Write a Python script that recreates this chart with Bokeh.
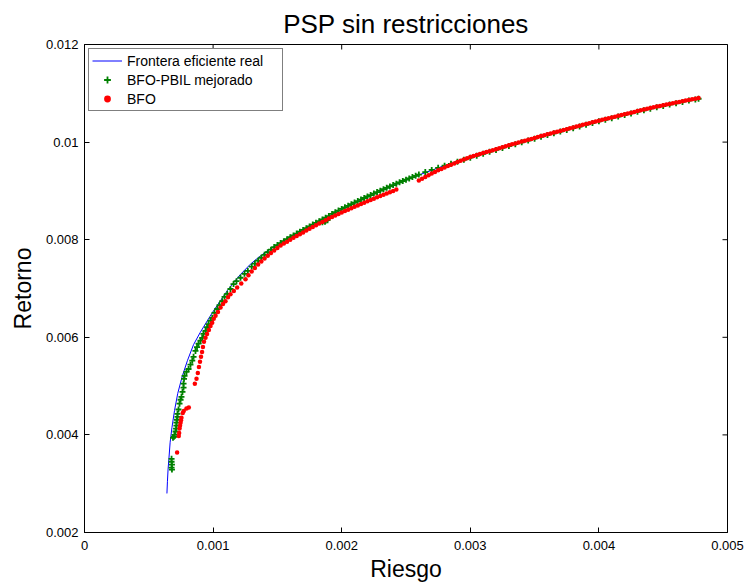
import math
from bokeh.plotting import figure
from bokeh.models import Range1d, FixedTicker, Legend, LegendItem
from bokeh.embed import file_html
from bokeh.resources import INLINE

title_text = "PSP sin restricciones"
x_label = "Riesgo"
y_label = "Retorno"
series_names = ["Frontera eficiente real", "BFO-PBIL mejorado", "BFO"]

x_ticks = [0.0, 0.001, 0.002, 0.003, 0.004, 0.005]
x_tick_labels = ["0", "0.001", "0.002", "0.003", "0.004", "0.005"]
y_ticks = [0.002, 0.004, 0.006, 0.008, 0.010, 0.012]
y_tick_labels = ["0.002", "0.004", "0.006", "0.008", "0.01", "0.012"]

# Frontera eficiente real (blue line)
frontier_risk = [0.000641, 0.000645, 0.000650, 0.000656, 0.000666, 0.000680, 0.000700, 0.000725, 0.000760, 0.000800,
                 0.000848, 0.000900, 0.000960, 0.001005, 0.001060, 0.001112, 0.001150, 0.001210, 0.001291, 0.001350,
                 0.001400, 0.001500, 0.001600, 0.001800, 0.002000, 0.002200, 0.002400, 0.002600, 0.002800, 0.003000,
                 0.003200, 0.003400, 0.003600, 0.003800, 0.004000, 0.004200, 0.004400, 0.004600, 0.004782]
frontier_return = [0.00280, 0.00305, 0.00330, 0.00350, 0.00385, 0.00415, 0.00450, 0.00485, 0.00520, 0.00552,
                   0.00585, 0.00610, 0.00636, 0.00655, 0.00676, 0.00696, 0.00709, 0.00728, 0.00750, 0.00763,
                   0.00773, 0.00790, 0.00806, 0.008345, 0.00862, 0.008875, 0.00911, 0.009325, 0.00952, 0.009695,
                   0.009855, 0.01001, 0.01016, 0.01030, 0.01044, 0.01057, 0.01070, 0.01081, 0.010905]

# BFO-PBIL mejorado (green +)
pbil_risk = [0.000677, 0.000677, 0.000680, 0.000677, 0.000680, 0.000688, 0.000696, 0.000700, 0.000708, 0.000712,
             0.000715, 0.000715, 0.000719, 0.000723, 0.000723, 0.000731, 0.000739, 0.000747, 0.000754, 0.000762,
             0.000770, 0.000770, 0.000774, 0.000778, 0.000793, 0.000809, 0.000824, 0.000838, 0.000848, 0.000863,
             0.000875, 0.000887, 0.000902, 0.000915, 0.000925, 0.000941, 0.000953, 0.000964, 0.000980, 0.000993,
             0.001011, 0.001032, 0.001050, 0.001071, 0.001089, 0.001110, 0.001135, 0.001159, 0.001182, 0.001213,
             0.001244, 0.001270,
             0.0013, 0.001325, 0.00135, 0.001375, 0.0014, 0.001425, 0.00145, 0.001475, 0.0015, 0.001525,
             0.00155, 0.001575, 0.0016, 0.001625, 0.00165, 0.001675, 0.0017, 0.001725, 0.00175, 0.001775,
             0.0018, 0.001825, 0.00185, 0.001875, 0.0019, 0.001925, 0.00195, 0.001975, 0.002, 0.002025,
             0.00205, 0.002075, 0.0021, 0.002125, 0.00215, 0.002175, 0.0022, 0.002225, 0.00225, 0.002275,
             0.0023, 0.002325, 0.00235, 0.002375, 0.0024, 0.002425, 0.00245, 0.002475, 0.0025, 0.002525,
             0.00255, 0.002575, 0.0026,
             0.00185, 0.00187, 0.001875, 0.00189,
             0.00265, 0.0027, 0.00275, 0.0028, 0.00285, 0.0029, 0.00295, 0.003, 0.00305, 0.0031,
             0.00315, 0.0032, 0.00325, 0.0033, 0.00335, 0.0034, 0.00345, 0.0035, 0.00355, 0.0036,
             0.00365, 0.0037, 0.00375, 0.0038, 0.00385, 0.0039, 0.00395, 0.004, 0.00405, 0.0041,
             0.00415, 0.0042, 0.00425, 0.0043, 0.00435, 0.0044, 0.00445, 0.0045, 0.00455, 0.0046,
             0.00465, 0.0047, 0.00475, 0.004775]
pbil_return = [0.00351, 0.00345, 0.00339, 0.00333, 0.00329, 0.00394, 0.00396, 0.00400, 0.00407, 0.00413,
               0.00419, 0.00425, 0.00431, 0.00437, 0.00443, 0.00452, 0.00464, 0.00472, 0.00478, 0.00488,
               0.00497, 0.00505, 0.00515, 0.00521, 0.00529, 0.00535, 0.00544, 0.00552, 0.00560, 0.00572,
               0.00580, 0.00587, 0.00593, 0.00599, 0.00607, 0.00613, 0.00621, 0.00627, 0.00634, 0.00640,
               0.00650, 0.00658, 0.00666, 0.00674, 0.00683, 0.00689, 0.00699, 0.00709, 0.00715, 0.00722,
               0.00730, 0.00736,
               0.00745, 0.00751, 0.00757, 0.00763, 0.00769, 0.007743, 0.007795, 0.007848, 0.00789, 0.00793,
               0.00797, 0.00801, 0.00805, 0.008088, 0.008125, 0.008163, 0.0082, 0.008236, 0.008273, 0.008309,
               0.008345, 0.00838, 0.008415, 0.00845, 0.008485, 0.008529, 0.008563, 0.008596, 0.00863, 0.008663,
               0.008695, 0.008728, 0.00876, 0.008791, 0.008823, 0.008854, 0.008885, 0.008915, 0.008945, 0.008975,
               0.009005, 0.009034, 0.009063, 0.009091, 0.00912, 0.009148, 0.009175, 0.009203, 0.00923, 0.009256,
               0.009283, 0.009309, 0.009335,
               0.00836, 0.00837, 0.00839, 0.0084,
               0.009385, 0.00943, 0.009473, 0.009515, 0.009555, 0.009595, 0.009638, 0.00968, 0.00972, 0.00976,
               0.0098, 0.00984, 0.00988, 0.00992, 0.009958, 0.009995, 0.010033, 0.01007, 0.010108, 0.010145,
               0.01018, 0.010215, 0.01025, 0.010285, 0.01032, 0.010355, 0.01039, 0.010425, 0.010458, 0.01049,
               0.010523, 0.010555, 0.010588, 0.01062, 0.010653, 0.010685, 0.010713, 0.01074, 0.010768, 0.010795,
               0.010823, 0.01085, 0.010875, 0.010888]

# BFO (red dots)
bfo_risk = [0.000720,
            0.000733, 0.000736, 0.000739, 0.000743, 0.000747, 0.000750, 0.000754, 0.000764, 0.000772, 0.000793,
            0.000811,
            0.000858, 0.000871, 0.000881, 0.000890, 0.000898, 0.000906, 0.000914, 0.000921, 0.000929, 0.000941,
            0.000953, 0.000967, 0.000980, 0.000993, 0.001005, 0.001019, 0.001038, 0.001058, 0.001077, 0.001096,
            0.001116, 0.001135, 0.001161, 0.001187, 0.001219, 0.001252,
            0.001275, 0.0013, 0.001325, 0.00135, 0.001375, 0.0014, 0.001425, 0.00145, 0.001475, 0.0015,
            0.001525, 0.00155, 0.001575, 0.0016, 0.001625, 0.00165, 0.001675, 0.0017, 0.001725, 0.00175,
            0.001775, 0.0018, 0.001825, 0.00185, 0.001875, 0.0019, 0.001925, 0.00195, 0.001975, 0.002,
            0.002025, 0.00205, 0.002075, 0.0021, 0.002125, 0.00215, 0.002175, 0.0022, 0.002225, 0.00225,
            0.002275, 0.0023, 0.002325, 0.00235, 0.002375, 0.0024, 0.002425,
            0.0026, 0.002625, 0.00265, 0.002675, 0.0027, 0.002725, 0.00275, 0.002775, 0.0028, 0.002825,
            0.00285, 0.002875, 0.0029, 0.002925, 0.00295, 0.002975, 0.003, 0.003025, 0.00305, 0.003075,
            0.0031, 0.003125, 0.00315, 0.003175, 0.0032, 0.003225, 0.00325, 0.003275, 0.0033, 0.003325,
            0.00335, 0.003375, 0.0034, 0.003425, 0.00345, 0.003475, 0.0035, 0.003525, 0.00355, 0.003575,
            0.0036, 0.003625, 0.00365, 0.003675, 0.0037, 0.003725, 0.00375, 0.003775, 0.0038, 0.003825,
            0.00385, 0.003875, 0.0039, 0.003925, 0.00395, 0.003975, 0.004, 0.004025, 0.00405, 0.004075,
            0.0041, 0.004125, 0.00415, 0.004175, 0.0042, 0.004225, 0.00425, 0.004275, 0.0043, 0.004325,
            0.00435, 0.004375, 0.0044, 0.004425, 0.00445, 0.004475, 0.0045, 0.004525, 0.00455, 0.004575,
            0.0046, 0.004625, 0.00465, 0.004675, 0.0047, 0.004725, 0.00475, 0.004775]
bfo_return = [0.00364,
              0.00398, 0.00404, 0.00413, 0.00419, 0.00425, 0.00430, 0.00435, 0.00445, 0.00449, 0.00454,
              0.00456,
              0.00505, 0.00515, 0.00527, 0.00539, 0.00550, 0.00560, 0.00570, 0.00580, 0.00591, 0.00599,
              0.00607, 0.00615, 0.00623, 0.00630, 0.00638, 0.00644, 0.00652, 0.00661, 0.00668, 0.00674,
              0.00682, 0.00688, 0.00695, 0.00702, 0.00710, 0.00719,
              0.00727, 0.00735, 0.00742, 0.00749, 0.007555, 0.007615, 0.00767, 0.007725, 0.007778, 0.00783,
              0.00788, 0.00792, 0.00796, 0.008, 0.008038, 0.008075, 0.008113, 0.00815, 0.008186, 0.008223,
              0.008259, 0.008295, 0.00833, 0.008365, 0.0084, 0.008435, 0.008464, 0.008495, 0.008525, 0.008556,
              0.008586, 0.008615, 0.008645, 0.008674, 0.008702, 0.008731, 0.008759, 0.008787, 0.008814, 0.008841,
              0.008868, 0.008895, 0.008921, 0.008947, 0.008973, 0.009, 0.009028,
              0.009215, 0.00925, 0.009285, 0.00932, 0.009355, 0.009389, 0.009423, 0.009451, 0.00948, 0.009508,
              0.009535, 0.009563, 0.00959, 0.009616, 0.009643, 0.009669, 0.009695, 0.009715, 0.009735, 0.009755,
              0.009775, 0.009795, 0.009815, 0.009835, 0.009855, 0.009875, 0.009895, 0.009915, 0.009935, 0.009954,
              0.009973, 0.009991, 0.01001, 0.010029, 0.010048, 0.010066, 0.010085, 0.010104, 0.010123, 0.010141,
              0.01016, 0.010178, 0.010195, 0.010213, 0.01023, 0.010248, 0.010265, 0.010283, 0.0103, 0.010318,
              0.010335, 0.010353, 0.01037, 0.010388, 0.010405, 0.010423, 0.01044, 0.010456, 0.010473, 0.010489,
              0.010505, 0.010521, 0.010538, 0.010554, 0.01057, 0.010586, 0.010603, 0.010619, 0.010635, 0.010651,
              0.010668, 0.010684, 0.0107, 0.010714, 0.010728, 0.010741, 0.010755, 0.010769, 0.010783, 0.010796,
              0.01081, 0.010824, 0.010838, 0.010851, 0.010865, 0.010877, 0.01089, 0.010902]

FONT = "Liberation Sans"

x_min, x_max = x_ticks[0], x_ticks[-1]
y_min, y_max = y_ticks[0], y_ticks[-1]

p = figure(width=745, height=586, output_backend="svg", toolbar_location=None,
           x_range=Range1d(x_min, x_max), y_range=Range1d(y_min, y_max),
           min_border_left=84, min_border_right=18, min_border_top=43, min_border_bottom=54)
p.background_fill_color = "white"
p.border_fill_color = "white"
p.outline_line_color = "black"
p.outline_line_width = 1
p.grid.visible = False

p.title.text = title_text
p.title.align = "center"
p.title.text_font = FONT
p.title.text_font_size = "26px"
p.title.text_font_style = "normal"
p.title.text_color = "black"
p.title.standoff = 12

def style_axis(ax, ticks, labels, label_standoff, axis_label_standoff):
    ax.ticker = FixedTicker(ticks=ticks)
    ax.major_label_overrides = {t: l for t, l in zip(ticks, labels)}
    ax.major_tick_in = 5
    ax.major_tick_out = 0
    ax.minor_tick_line_color = None
    ax.axis_line_color = "black"
    ax.major_tick_line_color = "black"
    ax.major_label_text_font = FONT
    ax.major_label_text_color = "black"
    ax.major_label_text_font_size = "13px"
    ax.major_label_standoff = label_standoff
    ax.axis_label_text_font = FONT
    ax.axis_label_text_font_style = "normal"
    ax.axis_label_text_color = "black"
    ax.axis_label_text_font_size = "23px"
    ax.axis_label_standoff = axis_label_standoff

style_axis(p.xaxis[0], x_ticks, x_tick_labels, 8, 3)
style_axis(p.yaxis[0], y_ticks, y_tick_labels, 6, 7)
p.xaxis[0].axis_label = x_label
p.yaxis[0].axis_label = y_label

# inward tick marks on the top and right edges of the box (half of each dash is clipped by the frame)
p.scatter(x_ticks, [y_max] * len(x_ticks), marker="dash", angle=math.pi / 2, size=10,
          line_color="black", line_width=1)
p.scatter([x_max] * len(y_ticks), y_ticks, marker="dash", angle=0, size=10,
          line_color="black", line_width=1)

r_line = p.line(frontier_risk, frontier_return, line_color="#0000ff", line_width=1)
r_pbil = p.scatter(pbil_risk, pbil_return, marker="cross", size=6, line_width=1.8,
                   line_color="#008000", fill_color="#008000")
r_bfo = p.scatter(bfo_risk, bfo_return, marker="circle", size=4.5, line_width=0,
                  line_color="#ff0000", fill_color="#ff0000")

legend = Legend(items=[LegendItem(label=series_names[0], renderers=[r_line]),
                       LegendItem(label=series_names[1], renderers=[r_pbil]),
                       LegendItem(label=series_names[2], renderers=[r_bfo])],
                location="top_left")
legend.margin = 4
legend.padding = 3
legend.spacing = 2
legend.label_height = 17
legend.glyph_height = 17
legend.glyph_width = 30
legend.label_standoff = 5
legend.label_width = 152
legend.label_text_font = FONT
legend.label_text_font_size = "14px"
legend.label_text_color = "black"
legend.border_line_color = "black"
legend.border_line_width = 1
legend.background_fill_color = "white"
legend.background_fill_alpha = 1.0
p.add_layout(legend)

open("out.html", "w").write(file_html(p, INLINE))
